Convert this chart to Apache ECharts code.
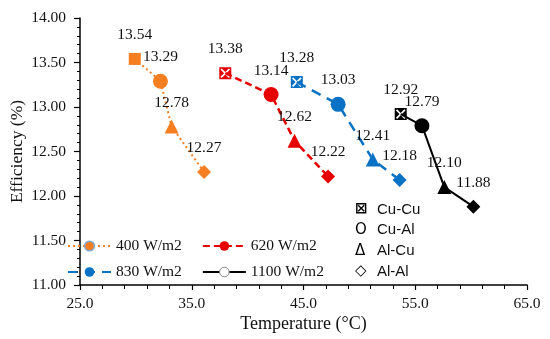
<!DOCTYPE html>
<html><head><meta charset="utf-8">
<script src="https://cdn.jsdelivr.net/npm/echarts@6/dist/echarts.min.js"></script>
<style>html,body{margin:0;padding:0;background:#fff}#c{width:550px;height:339px}</style>
</head><body><div id="c"></div>
<script>
const configs = ['Cu-Cu', 'Cu-Al', 'Al-Cu', 'Al-Al'];
const configSymbolsText = ['⊠', 'O', 'Δ', '◇'];
const seriesNames = ['400 W/m2', '620 W/m2', '830 W/m2', '1100 W/m2'];
const temp400 = [29.9, 32.2, 33.2, 36.1];
const eff400 = [13.54, 13.29, 12.78, 12.27];
const temp620 = [38.0, 42.1, 44.2, 47.2];
const eff620 = [13.38, 13.14, 12.62, 12.22];
const temp830 = [44.4, 48.1, 51.2, 53.6];
const eff830 = [13.28, 13.03, 12.41, 12.18];
const temp1100 = [53.7, 55.6, 57.6, 60.2];
const eff1100 = [12.92, 12.79, 12.10, 11.88];
const xTicks = [25.0, 35.0, 45.0, 55.0, 65.0];
const yTicks = [11.00, 11.50, 12.00, 12.50, 13.00, 13.50, 14.00];

const SERIF = 'Liberation Serif';
const crossSquare = 'path://M0 0 L12 0 L12 12 L0 12 Z M4.8 6 L1.2 9.6 L2.4 10.8 L6 7.2 L9.6 10.8 L10.8 9.6 L7.2 6 L10.8 2.4 L9.6 1.2 L6 4.8 L2.4 1.2 L1.2 2.4 Z';

function build(name, temps, effs, color, lineStyle, cuCuSymbol) {
  const symbols = [cuCuSymbol, 'circle', 'triangle', 'diamond'];
  const sizes = [12, 15, 14, 14];
  return {
    name: name, type: 'line', symbol: 'circle', symbolSize: 15,
    itemStyle: { color: color },
    lineStyle: Object.assign({ color: color }, lineStyle),
    z: 3,
    label: { show: true, position: 'inside', offset: [0, -24], formatter: p => p.value[1].toFixed(2),
      fontFamily: SERIF, fontSize: 15.5, color: '#111' },
    data: temps.map((t, i) => ({ value: [t, effs[i]], symbol: symbols[i], symbolSize: sizes[i] }))
  };
}

const series = [
  build(seriesNames[0], temp400, eff400, '#F57E20', { type: [2, 3], width: 2 }, 'rect'),
  build(seriesNames[1], temp620, eff620, '#E60000', { type: [7, 4], width: 2.5 }, crossSquare),
  build(seriesNames[2], temp830, eff830, '#0A72C4', { type: [10, 7], width: 2.5 }, crossSquare),
  build(seriesNames[3], temp1100, eff1100, '#000000', { type: 'solid', width: 2 }, crossSquare)
];

const legendText = { fontFamily: SERIF, fontSize: 15.5, color: '#111' };
const graphics = [];
configs.forEach((c, i) => {
  const y = 211 + i * 20.7;
  graphics.push({ type: 'text', left: 355, top: y - 9, style: { text: configSymbolsText[i], font: (i === 0 ? 'bold ' : '') + '15px "DejaVu Sans"', fill: '#000' } });
  graphics.push({ type: 'text', left: 377, top: y - 9, style: { text: c, font: '15px "Liberation Sans"', fill: '#111' } });
});

const chart = echarts.init(document.getElementById('c'), null, { renderer: 'canvas' });
chart.setOption({
  animation: false,
  backgroundColor: '#fff',
  grid: { left: 80, right: 23, top: 18, bottom: 54, containLabel: false, outerBoundsMode: 'none' },
  xAxis: {
    type: 'value', min: xTicks[0], max: xTicks[xTicks.length - 1], interval: 10,
    name: 'Temperature (°C)', nameLocation: 'middle', nameGap: 30, nameMoveOverlap: false,
    nameTextStyle: { fontFamily: SERIF, fontSize: 18, color: '#111' },
    axisLine: { onZero: false, lineStyle: { color: '#000', width: 1.5 } },
    axisTick: { show: true, length: 5, lineStyle: { color: '#000', width: 1.2 } },
    minorTick: { show: true, splitNumber: 5, length: 4, lineStyle: { color: '#000', width: 1 } },
    splitLine: { show: false },
    axisLabel: { formatter: v => v.toFixed(1), fontFamily: SERIF, fontSize: 15.5, color: '#111', margin: 11 }
  },
  yAxis: {
    type: 'value', min: yTicks[0], max: yTicks[yTicks.length - 1], interval: 0.5,
    name: 'Efficiency (%)', nameLocation: 'middle', nameGap: 54, nameMoveOverlap: false,
    nameTextStyle: { fontFamily: SERIF, fontSize: 17.5, color: '#111' },
    axisLine: { show: true, lineStyle: { color: '#000', width: 1.5 } },
    axisTick: { show: true, length: 6, lineStyle: { color: '#000', width: 1.2 } },
    minorTick: { show: true, splitNumber: 5, length: 3, lineStyle: { color: '#000', width: 1 } },
    splitLine: { show: false },
    axisLabel: { formatter: v => v.toFixed(2), fontFamily: SERIF, fontSize: 15.5, color: '#111', margin: 14 }
  },
  legend: [
    { left: 62, top: 233, itemWidth: 43, itemHeight: 12, itemGap: 20, textStyle: legendText,
      data: [{ name: seriesNames[0], itemStyle: { borderColor: '#7FA7D0', borderWidth: 1.5 } }, { name: seriesNames[1] }] },
    { left: 62, top: 259, itemWidth: 43, itemHeight: 12, itemGap: 20, textStyle: legendText,
      data: [{ name: seriesNames[2] }, { name: seriesNames[3], itemStyle: { color: '#fff', borderColor: '#888', borderWidth: 1 } }] }
  ],
  graphic: graphics,
  series: series
});
</script></body></html>
